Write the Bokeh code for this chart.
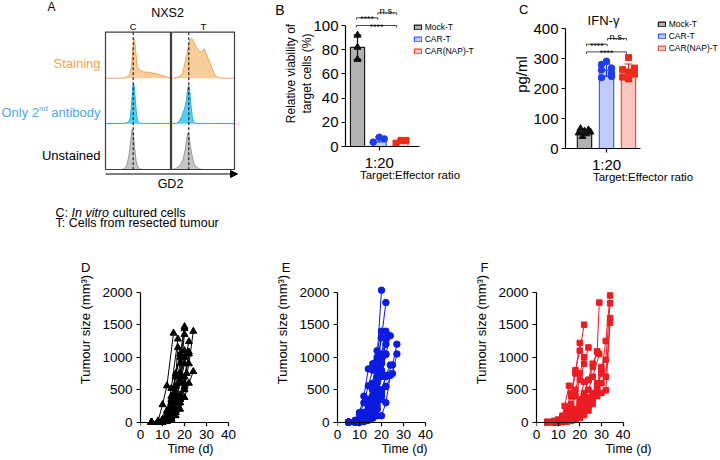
import numpy as np
from bokeh.plotting import figure
from bokeh.models import (Range1d, Label, FixedTicker, Legend, LegendItem, Arrow, NormalHead,
                          LinearAxis)
from bokeh.layouts import row, column
from bokeh.embed import file_html
from bokeh.resources import INLINE
from bokeh.core.properties import value

FONT = "Liberation Sans"

# ---------------- Panel A: GD2 flow histograms (channel 0-100 per box, % of mode) ----------------
stain_C_x = [0, 26, 32, 37, 40, 42, 44, 45, 47, 49, 52, 58, 69, 78, 88, 95, 100]
stain_C_y = [0, 0, 2, 8, 25, 60, 85, 82, 50, 25, 18, 14, 12, 10, 6, 2, 1]
stain_T_x = [0, 3, 10, 16.5, 20, 24, 28, 30, 32, 34, 36, 39.5, 44.6, 48, 52, 57, 62.6, 67.7, 72.8, 80, 100]
stain_T_y = [0, 0, 2, 8, 25, 49, 78, 84, 87, 82, 78, 67, 57, 58, 64, 46, 28, 10, 2, 0, 0]
second_C_x = [0, 30, 35, 38, 40, 42, 43, 44, 46, 48, 50, 54, 100]
second_C_y = [0.5, 1, 3, 12, 40, 80, 87, 84, 50, 15, 4, 1, 0.5]
second_T_x = [0, 8, 12, 16, 20, 22, 24, 26, 27.5, 29, 31, 33, 35, 38, 100]
second_T_y = [0.5, 1, 5, 15, 30, 40, 55, 78, 83, 70, 40, 15, 5, 1, 0.5]
unst_C_x = [0, 25, 29, 33, 36, 39, 41, 43, 45, 47, 49, 52, 56, 100]
unst_C_y = [0, 0, 2, 10, 30, 65, 88, 75, 45, 20, 8, 2, 0, 0]
unst_T_x = [0, 5, 10, 15, 19, 22, 24, 26, 28, 30, 33, 36, 40, 45, 50, 100]
unst_T_y = [0, 1, 5, 12, 25, 45, 65, 80, 72, 50, 28, 12, 5, 1, 0, 0]
gate_C = 42.6
gate_T = 27.5

# ---------------- Panels B / C ----------------
groups = ["Mock-T", "CAR-T", "CAR(NAP)-T"]
group_x = [1, 2, 3]
ratio_labels = {2: "1:20"}
viability_pts = [[92, 82, 72], [3.6, 7.7, 6.3], [2.7, 5.0, 5.0]]
viability_jit = [[0, 0, 0], [-0.28, 0, 0.23], [-0.23, 0, 0.23]]
ifng_pts = [[66, 62, 58, 55, 52, 49, 40],
            [291, 280, 268, 262, 252, 240, 236],
            [303, 268, 263, 255, 248, 238, 232]]
ifng_jit = [[-0.18, 0.18, 0, 0.27, -0.27, 0.09, -0.09],
            [0, -0.23, 0.23, -0.23, 0.23, 0.23, -0.23],
            [0, 0.27, -0.27, 0, 0.27, -0.27, 0]]
viability_cmp = [(0.95, 1.93, 106.4, "****"), (1.93, 2.80, 110.5, "n.s."), (0.95, 2.80, 100.0, "****")]
ifng_cmp = [(1.09, 2.03, 347.7, "****"), (2.05, 2.91, 366.7, "n.s."), (1.09, 2.91, 322.0, "****")]

# ---------------- Panels D / E / F: tumour growth (days, mm3) ----------------
mock_days = [[5, 8, 10, 12, 15], [5, 8, 10, 12, 14, 17], [5, 8, 10, 12, 14, 16, 18, 20],
             [5, 8, 10, 12, 14, 16, 18, 20], [5, 8, 10, 12, 14, 16, 18, 20],
             [5, 8, 10, 12, 14, 16, 18, 20, 22, 24], [5, 8, 10, 12, 14, 16, 18, 20, 22],
             [5, 8, 10, 12, 14, 16, 18, 20], [5, 8, 10, 12, 14, 16, 18, 20, 22],
             [5, 8, 10, 12, 14, 16, 18, 20, 22, 24], [5, 8, 10, 12, 14, 16, 18, 20, 22],
             [5, 8, 10, 12, 14, 16, 18, 20, 21], [5, 8, 10, 12, 14, 16, 18],
             [5, 8, 10, 12, 14, 16, 18, 20], [5, 8, 10, 12, 14, 16, 17]]
mock_vols = [[0, 20, 270, 560, 1370], [0, 0, 40, 180, 520, 1280], [0, 0, 20, 80, 250, 550, 900, 1470],
             [0, 10, 30, 120, 350, 700, 1050, 1440], [0, 0, 10, 50, 150, 400, 750, 1350],
             [0, 0, 0, 20, 60, 150, 300, 550, 900, 1400], [0, 0, 10, 40, 120, 300, 600, 900, 1240],
             [0, 0, 20, 60, 180, 450, 700, 1100], [0, 0, 5, 30, 90, 200, 420, 700, 1080],
             [0, 0, 0, 10, 40, 100, 200, 380, 600, 780], [0, 0, 10, 30, 80, 180, 350, 600, 1050],
             [0, 0, 5, 20, 60, 150, 300, 500, 750], [0, 10, 40, 150, 400, 750, 1000],
             [0, 0, 10, 40, 130, 330, 650, 1000], [0, 5, 30, 100, 300, 700, 1150]]

car_days = [[5, 8, 10, 12, 14, 16, 18, 20], [5, 8, 10, 12, 14, 16, 18, 20, 22],
            [5, 8, 10, 12, 14, 16, 18, 20], [5, 8, 10, 12, 14, 16, 18, 20, 22],
            [5, 8, 10, 12, 14, 16, 18, 20, 22, 24], [5, 8, 10, 12, 14, 16, 18, 20, 22, 25, 27],
            [5, 8, 10, 12, 14, 16, 18, 20, 22, 25, 27], [5, 8, 10, 12, 14, 16, 18, 20],
            [5, 8, 10, 12, 14, 16, 18, 20, 22], [5, 8, 10, 12, 14, 16, 18, 20, 22],
            [5, 8, 10, 12, 14, 16, 18, 20, 22, 24], [5, 8, 10, 12, 14, 16, 18, 20, 22],
            [5, 8, 10, 12, 14, 16, 18, 20, 22, 24], [5, 8, 10, 12, 14, 16, 18, 20, 22],
            [5, 8, 10, 12, 14, 16, 18, 20, 22]]
car_vols = [[0, 20, 60, 150, 350, 600, 1000, 2030], [0, 10, 40, 100, 250, 500, 850, 1300, 1840],
            [0, 30, 150, 400, 820, 900, 1100, 1400], [0, 0, 20, 70, 200, 400, 700, 1050, 1400],
            [0, 0, 10, 40, 120, 280, 520, 800, 1050, 1330], [0, 0, 5, 20, 60, 150, 300, 500, 700, 880, 1200],
            [0, 0, 0, 10, 40, 100, 200, 350, 550, 750, 1050], [0, 20, 120, 300, 560, 800, 960, 1300],
            [0, 0, 10, 40, 100, 250, 450, 750, 1300], [0, 0, 5, 30, 80, 200, 400, 700, 1040],
            [0, 0, 0, 10, 30, 60, 100, 100, 300, 720], [0, 0, 20, 80, 250, 500, 800, 1000, 1280],
            [0, 0, 0, 20, 50, 120, 250, 450, 720, 880], [0, 0, 10, 50, 150, 350, 600, 900, 1200],
            [0, 0, 5, 15, 40, 90, 200, 400, 550]]

nap_days = [[5, 8, 10, 12, 14, 16, 18, 20, 22], [5, 8, 10, 12, 13, 15], [5, 8, 10, 12, 14, 16, 18, 20],
            [5, 8, 10, 12, 14, 16, 18, 20, 22, 24], [5, 8, 10, 12, 14, 16, 18, 20, 22],
            [5, 8, 10, 12, 14, 16, 18, 20, 22, 24, 26, 28], [5, 8, 10, 12, 14, 16, 18, 20, 22, 24, 26, 29],
            [5, 8, 10, 12, 14, 16, 18, 20, 22, 24, 26, 28, 29],
            [5, 8, 10, 12, 14, 16, 18, 20, 22, 24, 26, 28, 30, 32, 34],
            [5, 8, 10, 12, 14, 16, 18, 20, 22, 24, 26, 28, 30, 32, 34],
            [5, 10, 12, 14, 16, 18, 20, 22, 24, 26, 28, 30, 32, 34],
            [5, 10, 12, 14, 16, 18, 20, 22, 24, 26, 28, 30, 32, 34],
            [5, 8, 10, 12, 14, 16, 18, 20, 22, 24, 26], [5, 8, 10, 12, 14, 16, 18, 20, 22],
            [5, 8, 10, 12, 14, 16, 18, 20, 22, 24, 26, 28, 30]]
nap_vols = [[0, 10, 30, 80, 200, 450, 800, 1100, 1500], [0, 20, 40, 100, 250, 560], [0, 10, 20, 60, 150, 400, 750, 1220],
            [0, 0, 10, 40, 100, 200, 400, 650, 900, 1150], [0, 0, 10, 50, 120, 280, 500, 750, 1000],
            [0, 0, 5, 20, 50, 100, 180, 300, 450, 650, 850, 1090], [0, 0, 0, 10, 30, 60, 120, 200, 330, 500, 700, 1050],
            [0, 0, 5, 20, 40, 90, 160, 280, 420, 650, 900, 1080, 1840],
            [0, 0, 0, 5, 20, 40, 70, 120, 200, 300, 420, 550, 750, 1250, 1950],
            [0, 0, 0, 10, 20, 50, 90, 150, 250, 350, 450, 600, 850, 960, 1830],
            [0, 0, 5, 15, 30, 60, 100, 160, 250, 350, 480, 600, 700, 1600],
            [0, 0, 5, 10, 20, 40, 70, 110, 180, 280, 400, 450, 490, 1530],
            [0, 0, 10, 30, 80, 150, 200, 250, 300, 380, 420], [0, 0, 5, 20, 60, 120, 200, 350, 620],
            [0, 0, 0, 10, 30, 60, 100, 150, 220, 300, 400, 500, 800]]
day_ticks = [0, 10, 20, 30, 40]
size_ticks = [0, 500, 1000, 1500, 2000]

# ---------------- styles ----------------
BAR_FILL = ["#B2B2B2", "#BFCBFA", "#FBC6BE"]
BAR_LINE = ["#1A1A1A", "#3F5FF2", "#F04A36"]
PT_COLOR = ["#111111", "#1E3DE6", "#EE2A1B"]
MARKERS = ["triangle", "circle", "square"]
MSIZE = [7, 6.5, 6]


def lab(p, x, y, text, size, color="black", align="left", baseline="middle",
        angle=0, style="normal", units="data", y_offset=0):
    p.add_layout(Label(x=x, y=y, x_units=units, y_units=units, text=text, text_font=FONT,
                       text_font_size=f"{size}px", text_color=color, text_align=align,
                       text_baseline=baseline, angle=angle, text_font_style=style,
                       y_offset=y_offset))


def style_axis(ax, tick_size, standoff=3):
    ax.axis_line_color = "black"
    ax.axis_line_width = 1.2
    ax.major_tick_line_color = "black"
    ax.major_tick_line_width = 1.2
    ax.major_tick_out = 4
    ax.major_tick_in = 0
    ax.minor_tick_line_color = None
    ax.major_label_text_font = FONT
    ax.major_label_text_font_size = f"{tick_size}px"
    ax.major_label_text_color = "black"
    ax.major_label_standoff = standoff
    ax.axis_label_text_font = FONT
    ax.axis_label_text_font_style = "normal"
    ax.axis_label_text_color = "black"


def letter_axis(p, yval, text, size, standoff):
    ax = LinearAxis(ticker=FixedTicker(ticks=[yval]), major_label_overrides={yval: text},
                    axis_line_color=None, major_tick_line_color=None, major_tick_out=0,
                    major_tick_in=0, minor_tick_line_color=None, major_label_standoff=standoff,
                    major_label_text_font=FONT, major_label_text_font_size=f"{size}px",
                    major_label_text_color="black")
    p.add_layout(ax, "left")


def base_fig(width, height, xr, yr, left, bottom):
    p = figure(width=width, height=height, x_range=xr, y_range=yr, output_backend="svg",
               toolbar_location=None, tools="", min_border_left=left, min_border_right=0,
               min_border_top=0, min_border_bottom=bottom, outline_line_color=None,
               frame_align=False)
    p.grid.visible = False
    return p


# ======================= Panel A =======================
pA = figure(width=240, height=232, x_range=Range1d(0, 240), y_range=Range1d(232, 0),
            output_backend="svg", toolbar_location=None, tools="", min_border=0,
            x_axis_type=None, y_axis_type=None, outline_line_color=None, frame_align=False)
pA.grid.visible = False
BOX_LEFT = [105, 171]
BOX_W = [65, 63]
BOX_TOP, BOX_BOT = 31.7, 169
ROW_BASE = [77.7, 123.3, 169]
ROW_H = 46
hists = [
    (stain_C_x, stain_C_y, 0, 0, "#F9CD9A", "#EFA65C"),
    (stain_T_x, stain_T_y, 1, 0, "#F9CD9A", "#EFA65C"),
    (second_C_x, second_C_y, 0, 1, "#55CFF0", "#22B2E0"),
    (second_T_x, second_T_y, 1, 1, "#55CFF0", "#22B2E0"),
    (unst_C_x, unst_C_y, 0, 2, "#C6C6C6", "#9A9A9A"),
    (unst_T_x, unst_T_y, 1, 2, "#C6C6C6", "#9A9A9A"),
]
for xs, hs, c, r, fill, line in hists:
    px = [BOX_LEFT[c] + x / 100 * BOX_W[c] for x in xs]
    base = ROW_BASE[r]
    py = [base - h / 100 * ROW_H for h in hs]
    pA.varea(x=px, y1=[base] * len(px), y2=py, fill_color=fill)
    pA.line(px, py, line_color=line, line_width=1)
gx = [BOX_LEFT[0] + gate_C / 100 * BOX_W[0], BOX_LEFT[1] + gate_T / 100 * BOX_W[1]]
pA.segment(x0=gx, y0=[BOX_TOP] * 2, x1=gx, y1=[BOX_BOT] * 2, line_color="black",
           line_width=1, line_dash="3 2")
pA.quad(left=BOX_LEFT, right=[BOX_LEFT[i] + BOX_W[i] for i in range(2)], top=[BOX_TOP] * 2,
        bottom=[BOX_BOT] * 2, fill_color=None, line_color="#3C3C3C", line_width=1.2)
pA.add_layout(Arrow(end=NormalHead(size=7, line_color="black", fill_color="black", line_width=1),
                    x_start=105, y_start=173.5, x_end=237, y_end=173.5,
                    line_color="black", line_width=1.2))
lab(pA, 51, 6.5, "A", 12, align="center")
lab(pA, 167, 12.5, "NXS2", 12.5, align="center")
lab(pA, gx[0], 26, "C", 9.5, align="center")
lab(pA, 203, 26, "T", 9.5, align="center")
lab(pA, 100, 63, "Staining", 13, "#F0A04B", align="right")
blue_lab = "#4AA9EC"
lab(pA, 100, 112, "antibody", 13, blue_lab, align="right")
lab(pA, 100 - 3.78 * 13 - 0.278 * 13, 108, "nd", 7.8, blue_lab, align="right")
lab(pA, 100 - 4.058 * 13 - 1.112 * 7.8, 112, "Only 2", 13, blue_lab, align="right")
lab(pA, 100, 155, "Unstained", 13, align="right")
lab(pA, 170, 183.5, "GD2", 12.5, align="center")
lab(pA, 55, 212.5, "C:", 12.5)
lab(pA, 71, 212.5, "In vitro", 12.5, style="italic")
lab(pA, 112, 212.5, "cultured cells", 12.5)
lab(pA, 55, 222.7, "T: Cells from resected tumour", 12.5)


# ======================= helpers for bar panels =======================
def draw_groups(p, pts, jit, cap):
    means = [float(np.mean(v)) for v in pts]
    sds = [float(np.std(v, ddof=1)) for v in pts]
    bars = p.vbar(x=group_x, top=means, bottom=0, width=0.65, fill_color=BAR_FILL,
                  line_color=BAR_LINE, line_width=1.2)
    lo = [m - s for m, s in zip(means, sds)]
    hi = [m + s for m, s in zip(means, sds)]
    p.segment(x0=group_x, y0=lo, x1=group_x, y1=hi, line_color=PT_COLOR, line_width=1.2)
    p.segment(x0=[x - cap for x in group_x] * 2, y0=lo + hi, x1=[x + cap for x in group_x] * 2,
              y1=lo + hi, line_color=PT_COLOR * 2, line_width=1.2)
    for i in range(3):
        xs = [group_x[i] + j for j in jit[i]]
        p.scatter(xs, pts[i], marker=MARKERS[i], size=MSIZE[i], color=PT_COLOR[i])
    return bars


def draw_brackets(p, cmps, drop):
    p.multi_line([[a, a, b, b] for a, b, y, t in cmps],
                 [[y - drop, y, y, y - drop] for a, b, y, t in cmps],
                 line_color="#333333", line_width=0.9)
    for a, b, y, t in cmps:
        if t == "n.s.":
            lab(p, (a + b) / 2, y, t, 9.5, align="center", baseline="alphabetic", y_offset=2)
        else:
            lab(p, (a + b) / 2, y, t, 8.7, align="center", baseline="alphabetic", y_offset=-1.5)


def add_legend(p, bars, xy, size):
    items = [LegendItem(label=value(g), renderers=[bars], index=i) for i, g in enumerate(groups)]
    leg = Legend(items=items, location=xy, glyph_width=9, glyph_height=6, label_height=10,
                 spacing=2, padding=0, margin=0, label_standoff=3, label_text_font=FONT,
                 label_text_font_size=f"{size}px", label_text_color="black",
                 border_line_color=None, background_fill_alpha=0)
    p.add_layout(leg)


# ======================= Panel B =======================
B_UNIT, B_YPX = 21.75, 1.21
bx0 = 0.448
pB = base_fig(234, 232, Range1d(bx0, bx0 + 129 / B_UNIT), Range1d(0, 146 / B_YPX), 105, 86)
barsB = draw_groups(pB, viability_pts, viability_jit, 4 / B_UNIT)
draw_brackets(pB, viability_cmp, 2 / B_YPX)
add_legend(pB, barsB, (67.7, 89.6), 8.5)
for ax in pB.axis:
    style_axis(ax, 15)
pB.xaxis.ticker = FixedTicker(ticks=[2])
pB.xaxis.major_label_overrides = ratio_labels
pB.xaxis.bounds = (bx0, bx0 + 74 / B_UNIT)
pB.xaxis.axis_label = "Target:Effector ratio"
pB.xaxis.axis_label_text_font_size = "11.5px"
pB.xaxis.axis_label_standoff = -5
pB.yaxis.ticker = FixedTicker(ticks=[0, 20, 40, 60, 80, 100])
pB.yaxis.bounds = (0, 100)
pB.yaxis.axis_label = "Relative viability of\ntarget cells (%)"
pB.yaxis.axis_label_text_font_size = "12px"
pB.yaxis.axis_label_standoff = -4
letter_axis(pB, 115, "B", 14, -4)

# ======================= Panel C =======================
C_UNIT, C_YPX = 22.0, 0.3
cx0 = 0.136
pC = base_fig(246, 232, Range1d(cx0, cx0 + 155 / C_UNIT), Range1d(0, 148 / C_YPX), 91, 84)
barsC = draw_groups(pC, ifng_pts, ifng_jit, 4 / C_UNIT)
draw_brackets(pC, ifng_cmp, 2 / C_YPX)
add_legend(pC, barsC, (91.7, 95.5), 8.5)
for ax in pC.axis:
    style_axis(ax, 15)
pC.xaxis.ticker = FixedTicker(ticks=[2])
pC.xaxis.major_label_overrides = ratio_labels
pC.xaxis.bounds = (cx0, cx0 + 75 / C_UNIT)
pC.xaxis.axis_label = "Target:Effector ratio"
pC.xaxis.axis_label_text_font_size = "11.5px"
pC.xaxis.axis_label_standoff = -5
pC.yaxis.ticker = FixedTicker(ticks=[0, 100, 200, 300, 400])
pC.yaxis.bounds = (0, 400)
pC.yaxis.axis_label = "pg/ml"
pC.yaxis.axis_label_text_font_size = "15px"
pC.yaxis.axis_label_standoff = 0
letter_axis(pC, 463, "C", 13, -18)
lab(pC, 38, 128, "IFN-γ", 13, align="center", units="screen")

# ======================= Panels D / E / F =======================
DAY_PX, TUM_PX, TUM_EXT = 2.2, 0.065, 4.3


def tumour_panel(width, left_b, days, vols, color, marker, msize, letter, letter_standoff):
    fw = width - left_b
    y0 = -TUM_EXT / TUM_PX
    p = base_fig(width, 228, Range1d(0, fw / DAY_PX), Range1d(y0, y0 + 194 / TUM_PX), left_b, 34)
    p.multi_line(days, vols, line_color=color, line_width=1)
    p.scatter([d for ds in days for d in ds], [v for vs in vols for v in vs],
              marker=marker, size=msize, color=color)
    for ax in p.axis:
        style_axis(ax, 13.5, 4)
    # time axis labels in the bottom panel
    xa = p.xaxis[0]
    xa.ticker = FixedTicker(ticks=day_ticks)
    xa.axis_line_color = None
    xa.major_tick_line_color = None
    xa.major_tick_out = 0
    xa.major_label_standoff = 3
    xa.axis_label = "Time (d)"
    xa.axis_label_text_font_size = "12.5px"
    xa.axis_label_standoff = 0
    # axis line + ticks drawn at y = 0 (no labels)
    base_ax = LinearAxis(fixed_location=0, ticker=FixedTicker(ticks=day_ticks), bounds=(0, 40),
                         axis_line_color="black", axis_line_width=1.2,
                         major_tick_line_color="black", major_tick_line_width=1.2,
                         major_tick_in=4, major_tick_out=0, minor_tick_line_color=None,
                         major_label_text_color=None, major_label_standoff=0)
    p.add_layout(base_ax, "above")
    p.yaxis.ticker = FixedTicker(ticks=size_ticks)
    p.yaxis.bounds = (0, 2000)
    p.yaxis.axis_label = "Tumour size (mm³)"
    p.yaxis.axis_label_text_font_size = "13px"
    p.yaxis.axis_label_standoff = 6
    letter_axis(p, 2380, letter, 13, letter_standoff)
    return p


pD = tumour_panel(240, 140, mock_days, mock_vols, "#000000", "triangle", 7, "D", -15)
pE = tumour_panel(231, 97, car_days, car_vols, "#0B1BE0", "circle", 6.5, "E", -18)
pF = tumour_panel(249, 62, nap_days, nap_vols, "#EC1C24", "square", 5.5, "F", -17)

layout = column(row(pA, pB, pC), row(pD, pE, pF))
open("out.html", "w").write(file_html(layout, INLINE))
